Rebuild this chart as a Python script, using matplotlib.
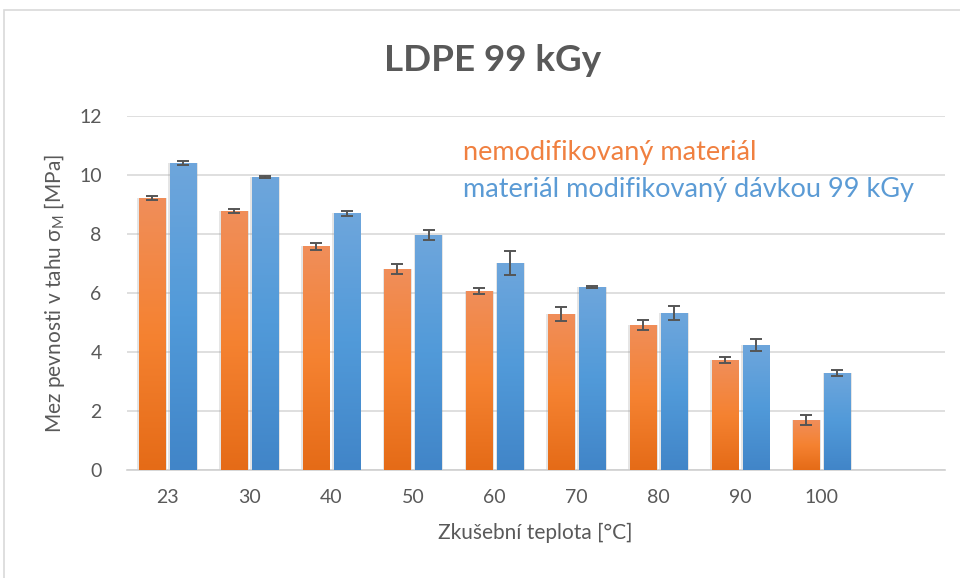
import matplotlib.pyplot as plt
from matplotlib.colors import LinearSegmentedColormap
from matplotlib.patches import Rectangle
import numpy as np

#data
teploty = ['23', '30', '40', '50', '60', '70', '80', '90', '100']
nemod = [9.22, 8.78, 7.59, 6.81, 6.07, 5.29, 4.92, 3.73, 1.69]
nemod_err = [0.06, 0.08, 0.12, 0.17, 0.10, 0.25, 0.16, 0.09, 0.18]
modif = [10.40, 9.93, 8.71, 7.97, 7.02, 6.20, 5.32, 4.24, 3.29]
modif_err = [0.07, 0.03, 0.08, 0.17, 0.41, 0.03, 0.23, 0.20, 0.10]

plt.rcParams['font.family'] = ['Lato', 'DejaVu Sans']

fig = plt.figure(figsize=(9.6, 5.78), dpi=100)
ax = fig.add_axes([0.132, 0.187, 0.852, 0.612])

#light frame around the whole chart
fig.patches.append(Rectangle((4 / 960, -0.01), 1.0, (578 - 10) / 578 + 0.01,
                             transform=fig.transFigure, fill=False,
                             edgecolor='#d9d9d9', linewidth=1.2))

x = np.arange(len(teploty))
sirka = 0.32
posun = 0.19

cmap_or = LinearSegmentedColormap.from_list('or', ['#e56b17', '#f58231', '#f08e5a'])
cmap_bl = LinearSegmentedColormap.from_list('bl', ['#4185c8', '#519ad9', '#6ea6dc'])
grad = np.linspace(0, 1, 256).reshape(-1, 1)

def gradient_bars(bars, cmap):
    for b in bars:
        x0, y0 = b.get_x(), b.get_y()
        w, h = b.get_width(), b.get_height()
        im = ax.imshow(grad, cmap=cmap, aspect='auto', origin='lower',
                       extent=[x0, x0 + w, y0, y0 + h], zorder=3)
        im.set_clip_path(b)
    #for
#gradient_bars

#soft shadow next to the bars
ax.bar(x - posun, nemod, sirka + 0.04, color='#9a9a9a', alpha=0.25, zorder=1)
ax.bar(x + posun, modif, sirka + 0.04, color='#9a9a9a', alpha=0.25, zorder=1)

b1 = ax.bar(x - posun, nemod, sirka, color='#f08040', zorder=2)
b2 = ax.bar(x + posun, modif, sirka, color='#5a9ad8', zorder=2)
gradient_bars(b1, cmap_or)
gradient_bars(b2, cmap_bl)

ax.errorbar(x - posun, nemod, yerr=nemod_err, fmt='none', ecolor='#555555',
            elinewidth=1.4, capsize=4.5, capthick=1.4, zorder=4)
ax.errorbar(x + posun, modif, yerr=modif_err, fmt='none', ecolor='#555555',
            elinewidth=1.4, capsize=4.5, capthick=1.4, zorder=4)

ax.set_xlim(-0.5, 9.5)
ax.set_ylim(0, 12)
ax.set_yticks(range(0, 13, 2))
ax.set_xticks(x)
ax.set_xticklabels(teploty)
ax.grid(axis='y', color='#d9d9d9', linewidth=1.2, zorder=0)
ax.set_axisbelow(True)
for s in ['top', 'right', 'left']:
    ax.spines[s].set_visible(False)
#for
ax.spines['bottom'].set_color('#d0d0d0')
ax.spines['bottom'].set_linewidth(1.2)
ax.tick_params(length=0, labelsize=14, labelcolor='#595959')
ax.tick_params(axis='x', pad=14)
ax.tick_params(axis='y', pad=18)

ax.set_xlabel('Zkušební teplota [°C]', fontsize=15, color='#595959', labelpad=12)
ax.set_ylabel('Mez pevnosti v tahu σ$_\\mathregular{M}$ [MPa]', fontsize=15,
              color='#595959', labelpad=9)

fig.text(0.513, 0.895, 'LDPE 99 kGy', ha='center', va='center', fontsize=26.5,
         fontweight='bold', color='#595959')

fig.text(463 / 960, 1 - 153 / 578, 'nemodifikovaný materiál', ha='left', va='center',
         fontsize=19.5, color='#f08040')
fig.text(463 / 960, 1 - 190 / 578, 'materiál modifikovaný dávkou 99 kGy', ha='left',
         va='center', fontsize=19.5, color='#5b9bd5')

fig.savefig('out.png', dpi=100)
